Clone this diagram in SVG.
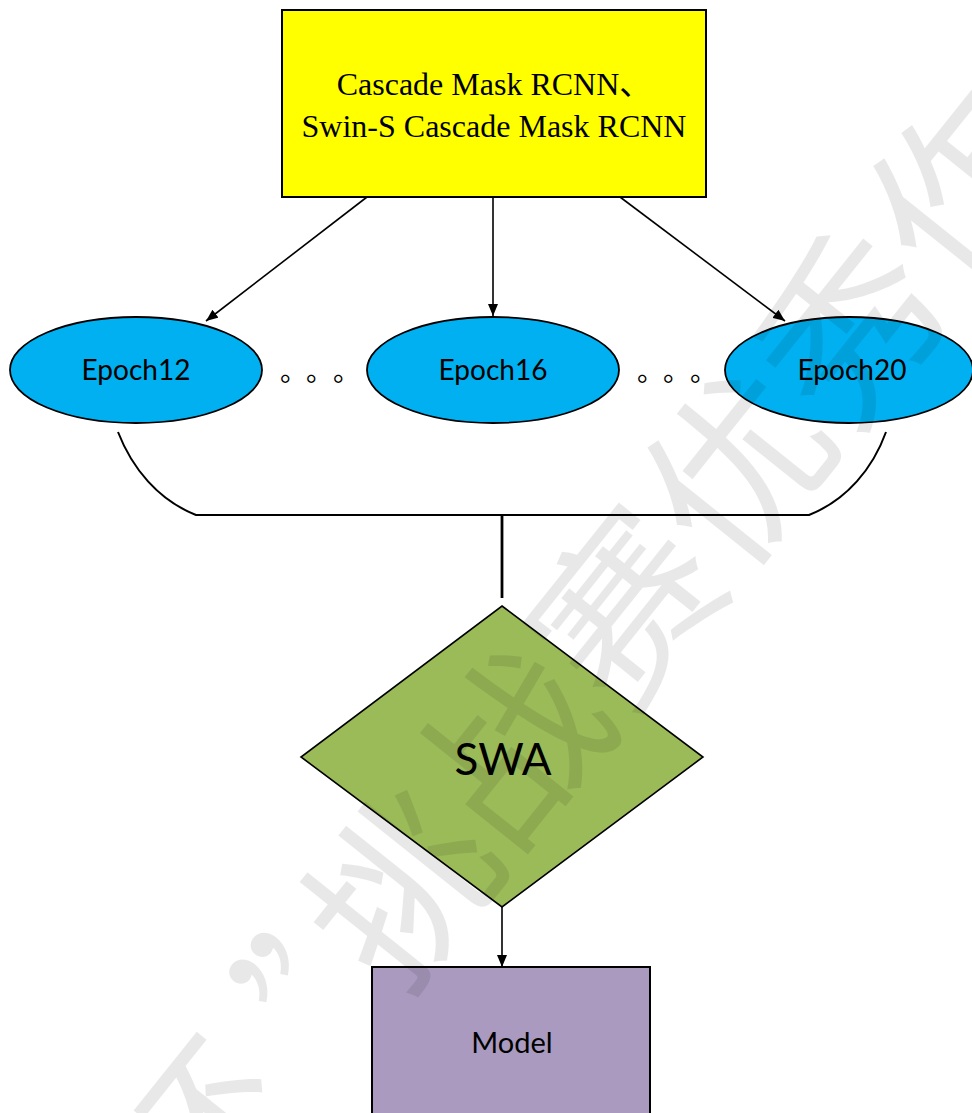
<svg xmlns="http://www.w3.org/2000/svg" width="972" height="1113" viewBox="0 0 972 1113">
<defs>
<marker id="arr" markerUnits="userSpaceOnUse" markerWidth="12" markerHeight="10" refX="12" refY="5" orient="auto">
<path d="M0,0 L12,5 L0,10 z" fill="#000"/>
</marker>
<style>
.box{stroke:#000;stroke-width:2}
.ell{fill:#00B0F0;stroke:#000;stroke-width:1.8}
.lbl{font-family:Lato,"Open Sans",sans-serif;fill:#000;text-anchor:middle}
.ser{font-family:"Liberation Serif","Noto Sans CJK SC",serif;font-size:32px;fill:#000;text-anchor:middle}
.dots{font-family:"Noto Sans CJK SC",sans-serif;font-size:27px;fill:#000}
.con{fill:none;stroke:#000;stroke-width:1.6}
.wm{font-family:"Noto Sans CJK SC",sans-serif;font-size:179px;fill:#000;fill-opacity:0.09;text-anchor:middle}
</style>
</defs>
<rect width="972" height="1113" fill="#fff"/>

<g id="node-top">
<rect class="box" x="282" y="10" width="424" height="187" fill="#FFFF00"/>
<text class="ser" x="494" y="95">Cascade Mask RCNN、</text>
<text class="ser" x="494" y="137">Swin-S Cascade Mask RCNN</text>
</g>

<g id="node-epoch12">
<ellipse class="ell" cx="136" cy="370" rx="126" ry="53"/>
<text class="lbl" x="136" y="380" font-size="28">Epoch12</text>
</g>
<g id="node-epoch16">
<ellipse class="ell" cx="493" cy="370" rx="126" ry="53"/>
<text class="lbl" x="493" y="380" font-size="28">Epoch16</text>
</g>
<g id="node-epoch20">
<ellipse class="ell" cx="849" cy="370" rx="124" ry="53"/>
<text class="lbl" x="852" y="380" font-size="28">Epoch20</text>
</g>

<g id="ellipsis">
<text class="dots" x="280 306 333" y="381">。。。</text>
<text class="dots" x="637 663 690" y="381">。。。</text>
</g>

<g id="node-swa">
<polygon points="502,606 703,757 502,907 301,757" fill="#9BBB59" stroke="#000" stroke-width="1.6"/>
<text class="lbl" x="503" y="775" font-size="44">SWA</text>
</g>

<g id="node-model">
<rect class="box" x="372" y="967" width="278" height="160" fill="#AA9ABF"/>
<text class="lbl" x="512" y="1053" font-size="29">Model</text>
</g>

<g id="connectors">
<line class="con" x1="367" y1="197" x2="206" y2="321" marker-end="url(#arr)"/>
<line class="con" x1="493" y1="197" x2="493" y2="316" marker-end="url(#arr)"/>
<line class="con" x1="620" y1="197" x2="785" y2="321" marker-end="url(#arr)"/>
<path class="con" style="stroke-width:2" d="M118,432 C132,468 158,500 196,515 L809,515 C847,500 873,468 886,432"/>
<line x1="502" y1="515" x2="502" y2="598" style="stroke:#000;stroke-width:2.8"/>
<line class="con" x1="502" y1="907" x2="502" y2="967" marker-end="url(#arr)"/>
</g>

<g id="watermark">
<text class="wm" transform="translate(198 1138) rotate(-51.34)" y="68">杯</text>
<text class="wm" transform="translate(341 961) rotate(-51.34)" y="68">”</text>
<text class="wm" transform="translate(401 887) rotate(-51.34)" y="68">挑</text>
<text class="wm" transform="translate(513 747) rotate(-51.34)" y="68">战</text>
<text class="wm" transform="translate(625 607) rotate(-51.34)" y="68">赛</text>
<text class="wm" transform="translate(737 467) rotate(-51.34)" y="68">优</text>
<text class="wm" transform="translate(849 327) rotate(-51.34)" y="68">秀</text>
<text class="wm" transform="translate(961 187) rotate(-51.34)" y="68">作</text>
</g>
</svg>
